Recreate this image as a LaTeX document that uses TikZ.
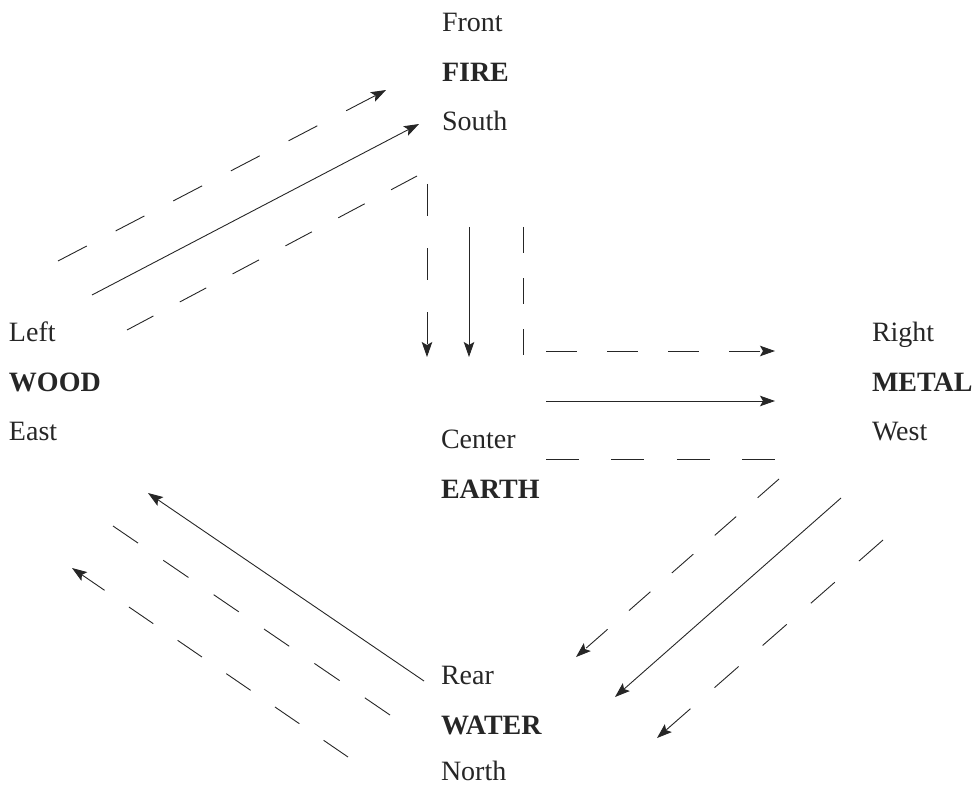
\documentclass[tikz,border=0pt]{standalone}
\usepackage{fontspec}
\setmainfont{Liberation Serif}
\usetikzlibrary{arrows.meta}
\tikzset{
  lbl/.style={anchor=base west, inner sep=0pt, outer sep=0pt, text=black!85,
    font=\fontsize{28}{34}\selectfont},
  elem/.style={lbl, font=\fontsize{28}{34}\selectfont\bfseries},
  conn/.style={line width=0.9pt, draw=black!85},
  arr/.style={conn, -{Stealth[length=15pt,width=10.5pt,inset=3pt]}},
  dsh/.style={dash pattern=on #1 off #1}
}
\begin{document}
\begin{tikzpicture}[x=1pt,y=-1pt]
\useasboundingbox (0,0) rectangle (976,786);
% text groups
\node[lbl]  (front)  at (442,32)  {Front};
\node[elem] (fire)   at (442,82)  {FIRE};
\node[lbl]  (south)  at (442,131) {South};
\node[lbl]  (left)   at (9,341)   {Left};
\node[elem] (wood)   at (9,391)   {WOOD};
\node[lbl]  (east)   at (9,440)   {East};
\node[lbl]  (right)  at (872,341) {Right};
\node[elem] (metal)  at (872,391) {METAL};
\node[lbl]  (west)   at (872,440) {West};
\node[lbl]  (center) at (441,448) {Center};
\node[elem] (earth)  at (441,498) {EARTH};
\node[lbl]  (rear)   at (441,684) {Rear};
\node[elem] (water)  at (441,734) {WATER};
\node[lbl]  (north)  at (441,780) {North};
% connector end points
\coordinate (a1s) at (58,261);  \coordinate (a1e) at (386,90);
\coordinate (a2s) at (92,295);  \coordinate (a2e) at (419,124);
\coordinate (a3s) at (127,330); \coordinate (a3e) at (417,176);
\coordinate (b1s) at (427,184); \coordinate (b1e) at (427,357);
\coordinate (b2s) at (469,227); \coordinate (b2e) at (469,357);
\coordinate (b3s) at (523,227); \coordinate (b3e) at (523,355);
\coordinate (c1s) at (546,351); \coordinate (c1e) at (775,351);
\coordinate (c2s) at (546,401); \coordinate (c2e) at (775,401);
\coordinate (c3s) at (546,459); \coordinate (c3e) at (775,459);
\coordinate (d1s) at (779,479); \coordinate (d1e) at (576,657);
\coordinate (d2s) at (841,498); \coordinate (d2e) at (615,697);
\coordinate (d3s) at (883,540); \coordinate (d3e) at (657,738);
\coordinate (e1s) at (424,681); \coordinate (e1e) at (148,493);
\coordinate (e2s) at (390,715); \coordinate (e2e) at (113,526);
\coordinate (e3s) at (348,757); \coordinate (e3e) at (72,568);
% Wood -> Fire
\draw[arr, dsh=32.5] (a1s) -- (a1e);
\draw[arr] (a2s) -- (a2e);
\draw[conn, dsh=29.9] (a3s) -- (a3e);
% Fire -> Earth
\draw[arr, dsh=32] (b1s) -- (b1e);
\draw[arr] (b2s) -- (b2e);
\draw[conn, dsh=25.6] (b3s) -- (b3e);
% Earth -> Metal
\draw[arr, dsh=30.5] (c1s) -- (c1e);
\draw[arr] (c2s) -- (c2e);
\draw[conn, dsh=32.7] (c3s) -- (c3e);
% Metal -> Water
\draw[arr, dsh=28.5] (d1s) -- (d1e);
\draw[arr] (d2s) -- (d2e);
\draw[arr, dsh=32] (d3s) -- (d3e);
% Water -> Wood
\draw[arr] (e1s) -- (e1e);
\draw[conn, dsh=30.5] (e2s) -- (e2e);
\draw[arr, dsh=29.5] (e3s) -- (e3e);
\end{tikzpicture}
\end{document}
